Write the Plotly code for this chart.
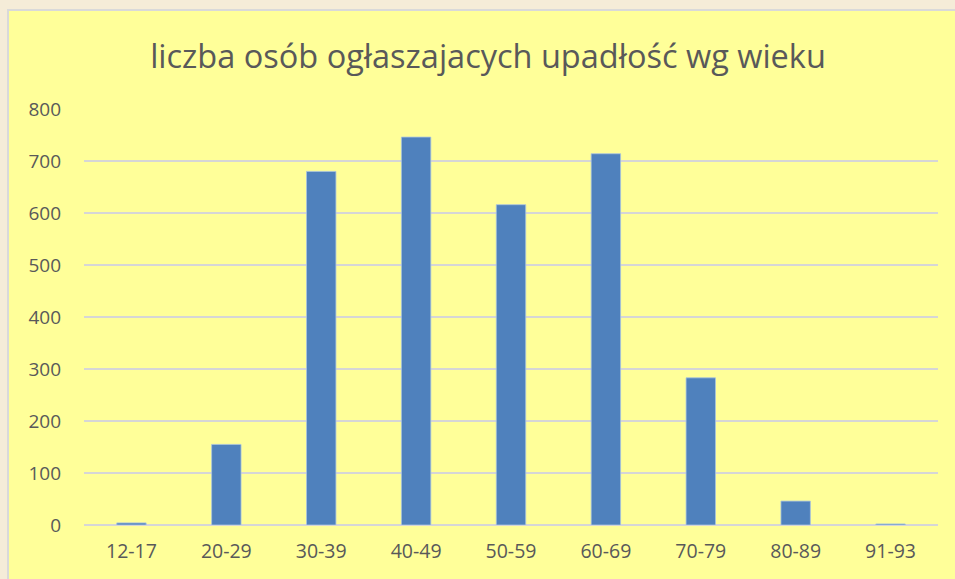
import plotly.graph_objects as go

categories = ["12-17", "20-29", "30-39", "40-49", "50-59", "60-69", "70-79", "80-89", "91-93"]
values = [4, 155, 680, 746, 616, 714, 283, 46, 2]
y_ticks = [0, 100, 200, 300, 400, 500, 600, 700, 800]
title_text = "liczba osób ogłaszajacych upadłość wg wieku"

W, H = 955, 579
ml, mr, mt, mb = 84, 17, 109, 54
pw, ph = W - ml - mr, H - mt - mb

def px2x(px):
    return (px - ml) / pw

def py2y(py):
    return (H - mb - py) / ph

fig = go.Figure()
fig.add_trace(go.Bar(
    x=categories, y=values,
    marker=dict(color="#4f81bd", line=dict(color="#a9c4e0", width=0.8)),
    width=0.31,
))

fig.update_layout(
    width=W, height=H,
    margin=dict(l=ml, r=mr, t=mt, b=mb),
    paper_bgcolor="#f5ecd8",
    plot_bgcolor="rgba(0,0,0,0)",
    showlegend=False,
    title=dict(text=title_text, x=0.511, xanchor="center", y=1 - 57 / H, yanchor="middle",
               font=dict(family="Open Sans", size=32.5, color="#595959")),
    font=dict(family="Open Sans", color="#595959"),
    xaxis=dict(tickfont=dict(size=19.5, color="#595959"), showgrid=False, showline=False,
               ticks="", ticklabelstandoff=12),
    yaxis=dict(range=[0, 800], tickvals=y_ticks, tickfont=dict(size=19, color="#595959"),
               gridcolor="#d6d6d6", gridwidth=1.6, zeroline=True, zerolinecolor="#d6d6d6",
               zerolinewidth=1.6, showline=False, ticks="", ticklabelstandoff=22),
    shapes=[dict(type="rect", xref="paper", yref="paper",
                 x0=px2x(8), x1=px2x(962), y0=py2y(585), y1=py2y(10),
                 fillcolor="#ffff99", line=dict(color="#d9d9d9", width=2), layer="below")],
    bargap=0.69,
)

fig.write_html(
    "out.html",
    config={"displayModeBar": False},
    post_script="document.body.style.margin='0';document.body.style.background='#f5ecd8';",
)
